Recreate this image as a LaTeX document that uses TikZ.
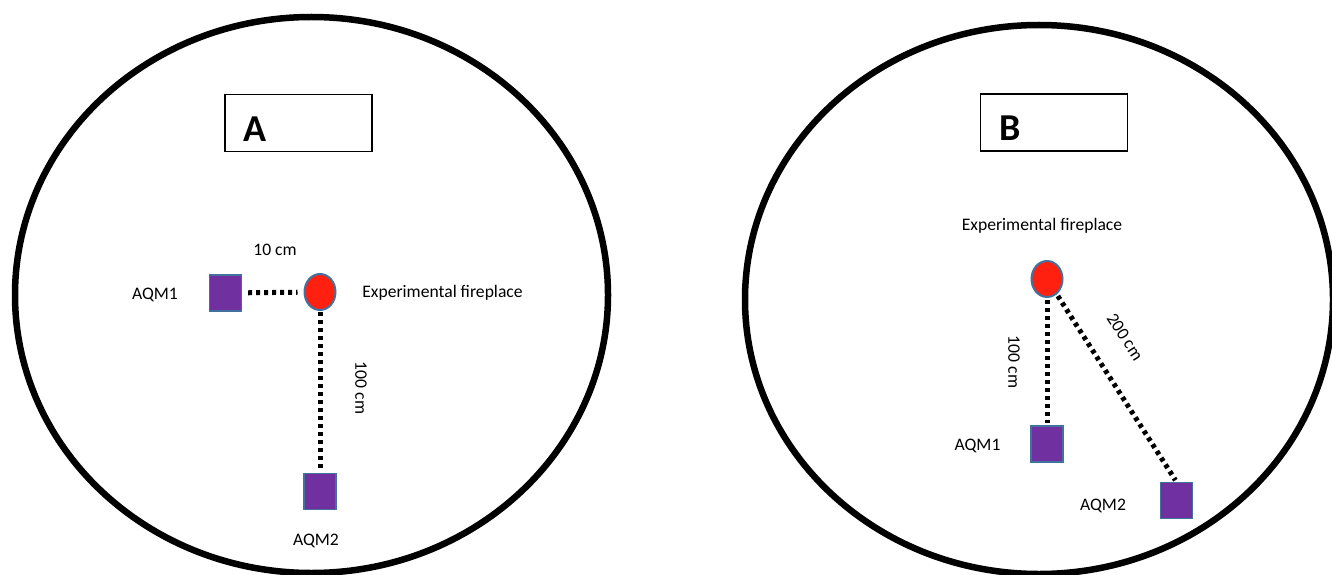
\documentclass[tikz,border=0pt]{standalone}
\usepackage{fontspec}
\setmainfont{Carlito}
\usetikzlibrary{shapes.geometric}
\definecolor{aqmfill}{HTML}{7030A0}
\definecolor{aqmedge}{HTML}{41719C}
\definecolor{firefill}{HTML}{FF2010}

\begin{document}
\begin{tikzpicture}[x=1pt, y=-1pt,
  room/.style={draw, line width=6.5pt},
  tag/.style={draw, line width=1.3pt, minimum width=147pt, minimum height=57pt,
              inner sep=0pt},
  letter/.style={font=\fontsize{38}{40}\selectfont\bfseries, anchor=base west,
                 inner sep=0pt},
  monitor/.style={draw=aqmedge, fill=aqmfill, line width=1.2pt,
                  minimum width=32pt, minimum height=36pt, inner sep=0pt},
  fire/.style={ellipse, draw=aqmedge, fill=firefill, line width=2pt,
               minimum width=31pt, minimum height=36pt, inner sep=0pt},
  lbl/.style={font=\fontsize{17.6}{20}\selectfont, inner sep=0pt},
  dots/.style={line width=5pt, dash pattern=on 4pt off 4pt}]
\useasboundingbox (0,0) rectangle (1332,575);
\draw[room] (311.5,295) ellipse [x radius=296.5pt, y radius=278pt];
\draw[room] (1039,299.5) ellipse [x radius=294pt, y radius=274.5pt];
\node[tag] (tagA) at (298.5,123) {};
\node[letter] (letA) at (243,142) {A};
\node[tag] (tagB) at (1054,122.5) {};
\node[letter] (letB) at (999,140) {B};
\node[fire] (fireA) at (320,292) {};
\node[monitor] (aqmA1) at (225.5,293) {};
\node[monitor] (aqmA2) at (320,491.5) {};
\node[lbl, anchor=base] (nameA1) at (155,299) {AQM1};
\node[lbl, anchor=base] (nameA2) at (316,545) {AQM2};
\node[lbl, anchor=base] (fireTxtA) at (442.5,297) {Experimental fireplace};
\node[lbl, anchor=base] (distA1) at (275,255) {10 cm};
\node[lbl, rotate=-90] (distA2) at (361,388) {100 cm};
\draw[dots, shorten <=6pt, shorten >=6pt] (aqmA1) -- (fireA);
\draw[dots, shorten <=1pt, shorten >=2pt] (fireA) -- (aqmA2);
\node[fire] (fireB) at (1047,279) {};
\node[monitor] (aqmB1) at (1047,444) {};
\node[monitor] (aqmB2) at (1176.5,500.5) {};
\node[lbl, anchor=base] (fireTxtB) at (1042,230) {Experimental fireplace};
\node[lbl, anchor=base] (nameB1) at (977.5,450) {AQM1};
\node[lbl, anchor=base] (nameB2) at (1103,510) {AQM2};
\node[lbl, rotate=-90] (distB1) at (1014,362) {100 cm};
\node[lbl, rotate=-57] (distB2) at (1125,337) {200 cm};
\draw[dots, shorten <=2pt, shorten >=2pt] (fireB) -- (aqmB1);
\draw[dots, shorten <=2pt, shorten >=2pt] (fireB) -- (aqmB2.north);
\end{tikzpicture}
\end{document}
